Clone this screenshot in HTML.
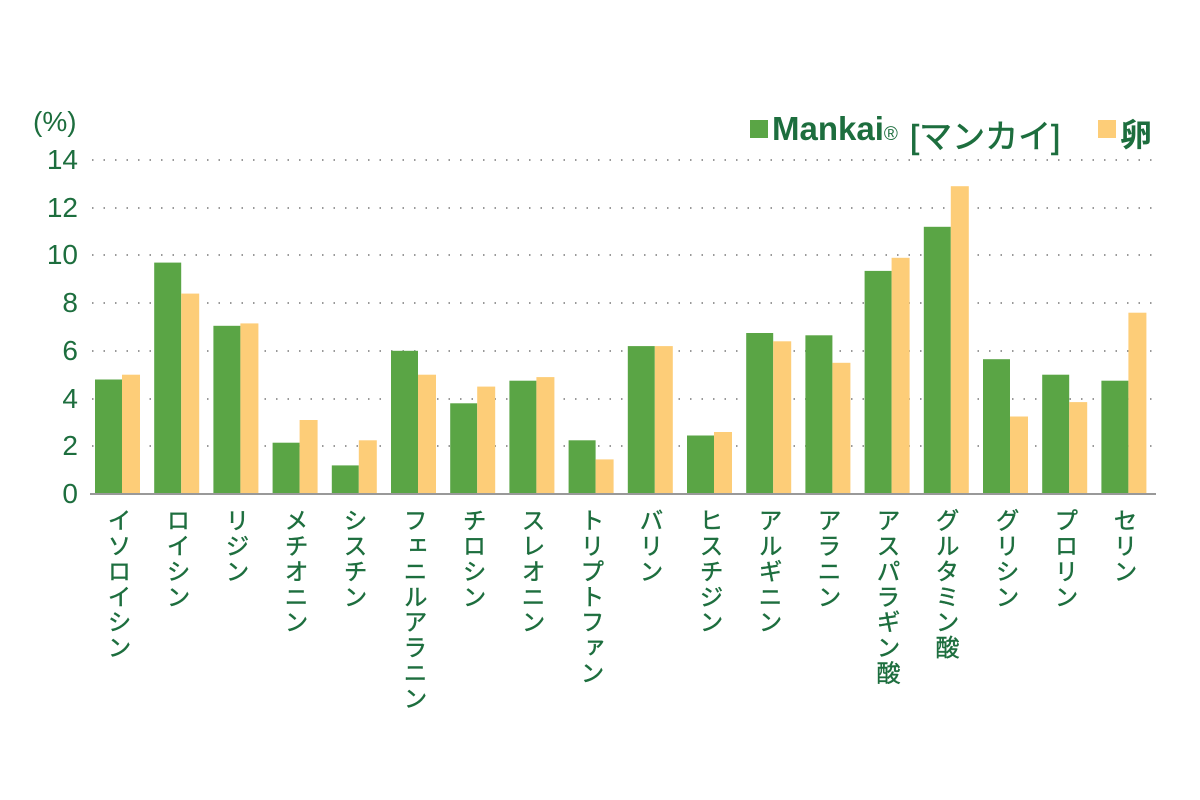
<!DOCTYPE html>
<html><head><meta charset="utf-8"><style>
body{margin:0;background:#fff;width:1200px;height:800px;overflow:hidden;position:relative;font-family:"Liberation Sans","Noto Sans CJK JP",sans-serif;color:#1d6e3e}
.l{position:absolute;top:508px;writing-mode:vertical-rl;font-size:24px;line-height:24px;width:24px;letter-spacing:1.4px;-webkit-text-stroke:0.4px #1d6e3e}
.t{position:absolute;font-size:28px;width:50px;text-align:right;left:28px;line-height:28px}
</style></head><body>
<svg width="1200" height="800" style="position:absolute;left:0;top:0">
<g stroke="#999" stroke-width="2" stroke-dasharray="1.5 10">
<line x1="92" x2="1155" y1="160" y2="160"/><line x1="92" x2="1155" y1="208" y2="208"/>
<line x1="92" x2="1155" y1="255" y2="255"/><line x1="92" x2="1155" y1="303" y2="303"/>
<line x1="92" x2="1155" y1="351" y2="351"/><line x1="92" x2="1155" y1="399" y2="399"/>
<line x1="92" x2="1155" y1="446" y2="446"/>
</g>
<g fill="#5aa545">
<rect x="95" y="379.5" width="27" height="114.5"/>
<rect x="154.2" y="262.6" width="27" height="231.4"/>
<rect x="213.4" y="325.8" width="27" height="168.2"/>
<rect x="272.6" y="442.7" width="27" height="51.3"/>
<rect x="331.8" y="465.4" width="27" height="28.6"/>
<rect x="391" y="350.8" width="27" height="143.2"/>
<rect x="450.2" y="403.3" width="27" height="90.7"/>
<rect x="509.4" y="380.7" width="27" height="113.3"/>
<rect x="568.6" y="440.3" width="27" height="53.7"/>
<rect x="627.8" y="346.1" width="27" height="147.9"/>
<rect x="687" y="435.5" width="27" height="58.5"/>
<rect x="746.2" y="333" width="27" height="161"/>
<rect x="805.4" y="335.3" width="27" height="158.7"/>
<rect x="864.6" y="270.9" width="27" height="223.1"/>
<rect x="923.8" y="226.8" width="27" height="267.2"/>
<rect x="983" y="359.2" width="27" height="134.8"/>
<rect x="1042.2" y="374.7" width="27" height="119.3"/>
<rect x="1101.4" y="380.7" width="27" height="113.3"/>
</g>
<g fill="#fdcd78">
<rect x="122" y="374.7" width="18" height="119.3"/>
<rect x="181.2" y="293.6" width="18" height="200.4"/>
<rect x="240.4" y="323.4" width="18" height="170.6"/>
<rect x="299.6" y="420" width="18" height="74"/>
<rect x="358.8" y="440.3" width="18" height="53.7"/>
<rect x="418" y="374.7" width="18" height="119.3"/>
<rect x="477.2" y="386.6" width="18" height="107.4"/>
<rect x="536.4" y="377.1" width="18" height="116.9"/>
<rect x="595.6" y="459.4" width="18" height="34.6"/>
<rect x="654.8" y="346.1" width="18" height="147.9"/>
<rect x="714" y="432" width="18" height="62"/>
<rect x="773.2" y="341.3" width="18" height="152.7"/>
<rect x="832.4" y="362.8" width="18" height="131.2"/>
<rect x="891.6" y="257.8" width="18" height="236.2"/>
<rect x="950.8" y="186.2" width="18" height="307.8"/>
<rect x="1010" y="416.5" width="18" height="77.5"/>
<rect x="1069.2" y="402.1" width="18" height="91.9"/>
<rect x="1128.4" y="312.7" width="18" height="181.3"/>
</g>
<line x1="90" x2="1156" y1="494" y2="494" stroke="#999" stroke-width="2"/>
<rect x="750" y="120" width="18" height="18" fill="#5aa545"/>
<rect x="1098" y="120" width="18" height="18" fill="#fdcd78"/>
</svg>
<div style="position:absolute;left:33px;top:106px;font-size:28px">(%)</div>
<div class="t" style="top:146px">14</div><div class="t" style="top:194px">12</div>
<div class="t" style="top:241px">10</div><div class="t" style="top:289px">8</div>
<div class="t" style="top:337px">6</div><div class="t" style="top:385px">4</div>
<div class="t" style="top:432px">2</div><div class="t" style="top:480px">0</div>
<div style="position:absolute;left:772px;top:110px;font-size:33px;font-weight:bold;white-space:nowrap">Mankai<span style="font-size:19px;font-weight:normal">®</span></div>
<div style="position:absolute;left:910px;top:110px;font-size:33px;letter-spacing:0px;white-space:nowrap;-webkit-text-stroke:0.6px #1d6e3e">[マンカイ]</div>
<div style="position:absolute;left:1120px;top:110px;font-size:32px;font-weight:bold">卵</div>
<div class="l" style="left:104px">イソロイシン</div>
<div class="l" style="left:163px">ロイシン</div>
<div class="l" style="left:222px">リジン</div>
<div class="l" style="left:281px">メチオニン</div>
<div class="l" style="left:340px">シスチン</div>
<div class="l" style="left:400px">フェニルアラニン</div>
<div class="l" style="left:459px">チロシン</div>
<div class="l" style="left:518px">スレオニン</div>
<div class="l" style="left:577px">トリプトファン</div>
<div class="l" style="left:636px">バリン</div>
<div class="l" style="left:696px">ヒスチジン</div>
<div class="l" style="left:755px">アルギニン</div>
<div class="l" style="left:814px">アラニン</div>
<div class="l" style="left:873px">アスパラギン酸</div>
<div class="l" style="left:932px">グルタミン酸</div>
<div class="l" style="left:992px">グリシン</div>
<div class="l" style="left:1051px">プロリン</div>
<div class="l" style="left:1110px">セリン</div>
</body></html>
